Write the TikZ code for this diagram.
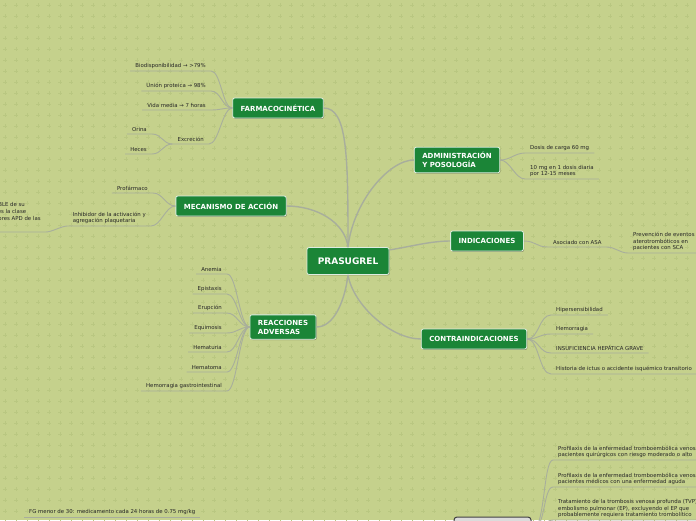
\documentclass[tikz,border=0pt]{standalone}
\usepackage{fontspec}
\setmainfont{DejaVu Sans}
\usetikzlibrary{shadows}
\definecolor{bgc}{HTML}{C5D18C}
\definecolor{plusc}{HTML}{B9C781}
\definecolor{nodegreen}{HTML}{1B8537}
\definecolor{connc}{HTML}{A8AE9C}
\definecolor{leaftext}{HTML}{262626}
\tikzset{
  mainnode/.style={fill=nodegreen, draw=white!85!nodegreen, line width=0.8pt, rounded corners=2pt,
    text=white, font=\fontsize{7}{9}\selectfont\bfseries, align=left, inner xsep=8pt, inner ysep=5pt,
    minimum height=20pt, drop shadow={shadow xshift=0.7pt, shadow yshift=-0.9pt, fill=black, opacity=0.3}},
  rootnode/.style={mainnode, font=\fontsize{9}{10}\selectfont\bfseries, inner xsep=10pt, minimum height=27pt, minimum width=82pt},
  leaf/.style={font=\fontsize{5.4}{6.6}\selectfont, text=leaftext, inner xsep=5pt, inner ysep=2pt, align=left},
  leafL/.style={leaf, anchor=south east},
  leafR/.style={leaf, anchor=south west},
  mainline/.style={draw=connc, line width=1.4pt},
  leafline/.style={draw=connc, line width=0.9pt},
  graynode/.style={fill=black!14, draw=black!75, line width=1pt, rounded corners=3pt, minimum width=77pt, minimum height=28pt}
}
\begin{document}
\begin{tikzpicture}[x=1pt,y=-1pt]
\useasboundingbox (0,0) rectangle (696,520);
\clip (0,0) rectangle (696,520);
\fill[bgc] (0,0) rectangle (696,520);
\draw[plusc, line width=0.6pt] foreach \i in {0,...,63} { foreach \j in {0,...,47} { (5+11*\i,5+11*\j) +(-1.6,0) -- +(1.6,0) +(0,-1.6) -- +(0,1.6) } };

% main nodes
\node[rootnode] (P) at (348,261) {PRASUGREL};
\node[mainnode] (F) at (278,108) {FARMACOCINÉTICA};
\node[mainnode] (M) at (231,206) {MECANISMO DE ACCIÓN};
\node[mainnode] (R) at (283,327) {REACCIONES\\ADVERSAS};
\node[mainnode] (A) at (457,160) {ADMINISTRACIÓN\\Y POSOLOGÍA};
\node[mainnode] (I) at (487,241) {INDICACIONES};
\node[mainnode] (C) at (474,339) {CONTRAINDICACIONES};
\node[graynode] (B) at (492.5,531) {};

% main connectors
\draw[mainline] (P.north) .. controls +(0,-90) and +(24,0) .. (F.east);
\draw[mainline] (P.north) .. controls +(-3,-25) and +(30,0) .. (M.east);
\draw[mainline] (P.south) .. controls +(-3,25) and +(18,0) .. (R.east);
\draw[mainline] (P.north) .. controls +(5,-45) and +(-25,0) .. (A.west);
\draw[mainline] (P.15) .. controls +(20,-3) and +(-20,0) .. (I.west);
\draw[mainline] (P.south) .. controls +(5,30) and +(-30,0) .. (C.west);

% FARMACOCINETICA leaves
\node[leafL] (f1) at (211,71) {Biodisponibilidad → >79\%};
\node[leafL] (f2) at (211,91) {Unión proteica → 98\%};
\node[leafL] (f3) at (211,110) {Vida media → 7 horas};
\node[leafL] (f4) at (209,144) {Excreción};
\node[leafL] (f5) at (152,134) {Orina};
\node[leafL] (f6) at (152,154) {Heces};
\foreach \n in {f1,f2,f3,f4} {
  \draw[leafline] (\n.south west) -- (\n.south east) .. controls +(10,0) and +(-10,0) .. (F.west);
}
\foreach \n in {f5,f6} {
  \draw[leafline] (\n.south west) -- (\n.south east) .. controls +(10,0) and +(-10,0) .. (f4.south west);
}

% MECANISMO leaves
\node[leafL] (m1) at (153,193) {Profármaco};
\node[leafL] (m2) at (151,226) {Inhibidor de la activación y\\agregación plaquetaria};
\node[leaf, anchor=south west, inner ysep=10.5pt] (m3) at (-88,232) {Antagonista P2Y12 IRREVERSIBLE de su\\del receptor plaquetario, que es la clase\\de las tienopiridinas, e inhibidores APD de las};
\foreach \n in {m1,m2} {
  \draw[leafline] (\n.south west) -- (\n.south east) .. controls +(10,0) and +(-10,0) .. (M.west);
}
\draw[leafline] (m3.south west) -- (m3.south east) .. controls +(6,0) and +(-6,0) .. (m2.south west);

% REACCIONES leaves
\node[leafL] (r1) at (227,274) {Anemia};
\node[leafL] (r2) at (227,294) {Epistaxis};
\node[leafL] (r3) at (227,313) {Erupción};
\node[leafL] (r4) at (227,333) {Equimosis};
\node[leafL] (r5) at (227,352) {Hematuria};
\node[leafL] (r6) at (227,372) {Hematoma};
\node[leafL] (r7) at (227,391) {Hemorragia gastrointestinal};
\foreach \n in {r1,r2,r3,r4,r5,r6,r7} {
  \draw[leafline] (\n.south west) -- (\n.south east) .. controls +(10,0) and +(-10,0) .. (R.west);
}

% ADMINISTRACION leaves
\node[leafR] (a1) at (525,153) {Dosis de carga 60 mg};
\node[leafR] (a2) at (525,179) {10 mg en 1 dosis diaria\\por 12-15 meses};
\foreach \n in {a1,a2} {
  \draw[leafline] (A.east) .. controls +(10,0) and +(-10,0) .. (\n.south west) -- (\n.south east);
}

% INDICACIONES leaves
\node[leafR] (i1) at (548,247) {Asociado con ASA};
\node[leafR] (i2) at (628,253) {Prevención de eventos\\aterotrombóticos en\\pacientes con SCA};
\draw[leafline] (I.east) .. controls +(12,0) and +(-12,0) .. (i1.south west) -- (i1.south east);
\draw[leafline] (i1.south east) .. controls +(8,0) and +(-8,0) .. (i2.south west) -- (i2.south east);

% CONTRAINDICACIONES leaves
\node[leafR] (c1) at (551,315) {Hipersensibilidad};
\node[leafR] (c2) at (551,334) {Hemorragia};
\node[leafR] (c3) at (551,353) {INSUFICIENCIA HEPÁTICA GRAVE};
\node[leafR] (c4) at (551,374) {Historia de ictus o accidente isquémico transitorio};
\foreach \n in {c1,c2,c3,c4} {
  \draw[leafline] (C.east) .. controls +(12,0) and +(-12,0) .. (\n.south west) -- (\n.south east);
}

% bottom right leaves
\node[leafR] (b1) at (553,460) {Profilaxis de la enfermedad tromboembólica venosa en\\pacientes quirúrgicos con riesgo moderado o alto};
\node[leafR] (b2) at (553,487) {Profilaxis de la enfermedad tromboembólica venosa en\\pacientes médicos con una enfermedad aguda};
\node[leafR] (b3) at (553,520) {Tratamiento de la trombosis venosa profunda (TVP) y\\embolismo pulmonar (EP), excluyendo el EP que\\probablemente requiera tratamiento trombolítico};
\foreach \n in {b1,b2,b3} {
  \draw[leafline] (B.east) .. controls +(14,0) and +(-10,0) .. (\n.south west) -- (\n.south east);
}

% bottom left leaf
\node[leafR] (g1) at (24,517) {FG menor de 30: medicamento cada 24 horas de 0.75 mg/kg};
\draw[leafline] (g1.south west) -- (g1.south east);
\end{tikzpicture}
\end{document}
